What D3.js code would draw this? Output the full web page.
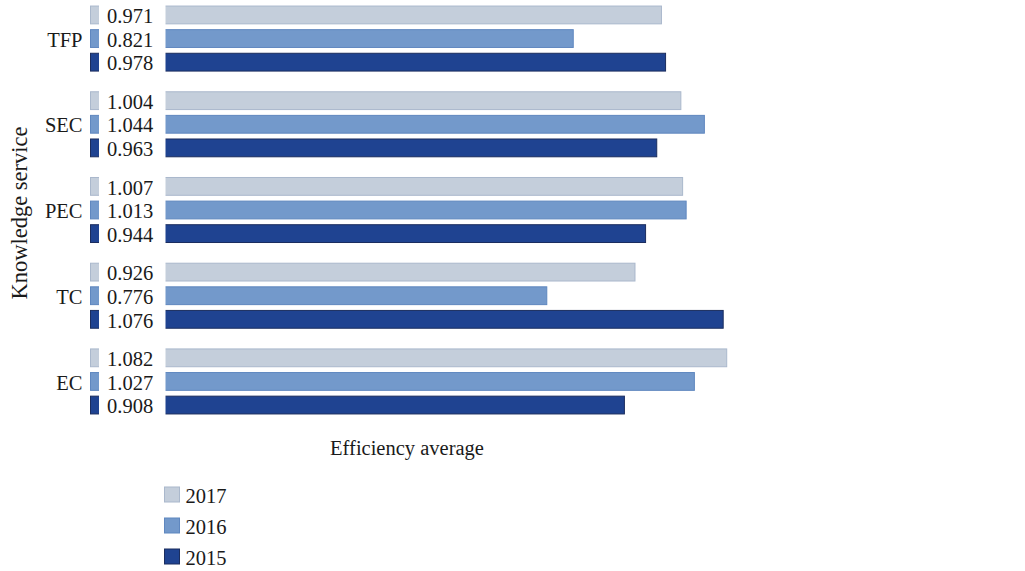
<!DOCTYPE html>
<html>
<head>
<meta charset="utf-8">
<script src="https://cdn.jsdelivr.net/npm/d3@7"></script>
<style>
  html, body { margin: 0; padding: 0; background: #fff; }
  svg text { font-family: "Liberation Serif", "DejaVu Serif", serif; fill: #1a1a1a; }
</style>
</head>
<body>
<svg id="chart" width="1025" height="571"></svg>
<script>
// Efficiency averages by knowledge-service component and year
const categories = ["TFP", "SEC", "PEC", "TC", "EC"];
const years = ["2017", "2016", "2015"];
const values2017 = [0.971, 1.004, 1.007, 0.926, 1.082];
const values2016 = [0.821, 1.044, 1.013, 0.776, 1.027];
const values2015 = [0.978, 0.963, 0.944, 1.076, 0.908];

const seriesByYear = { "2017": values2017, "2016": values2016, "2015": values2015 };
const fills   = { "2017": "#c4cedb", "2016": "#7399cb", "2015": "#1f4391" };
const strokes = { "2017": "#aab8cc", "2016": "#5f87bf", "2015": "#1b2d5e" };

const rows = [];
categories.forEach((c, i) => {
  years.forEach(yr => rows.push({ cat: c, year: yr, value: seriesByYear[yr][i] }));
});

const svg = d3.select("#chart");

const x = d3.scaleLinear().domain([0, 1.2]).range([90.5, 90.5 + 1.2 * 588]);
const y0 = d3.scaleBand().domain(categories).range([-4.3, 424.3])
  .paddingInner(0.2415).paddingOuter(0.1207);
const y1 = d3.scaleBand().domain(years).range([0, y0.bandwidth()]).paddingInner(0.246);

const bars = svg.append("g");
bars.selectAll("rect")
  .data(rows)
  .join("rect")
  .attr("x", x(0))
  .attr("y", d => y0(d.cat) + y1(d.year))
  .attr("width", d => x(d.value) - x(0))
  .attr("height", y1.bandwidth())
  .attr("fill", d => fills[d.year])
  .attr("stroke", d => strokes[d.year])
  .attr("stroke-width", 1);

// blank column between legend keys and bars, holding the values
svg.append("rect")
  .attr("x", 99).attr("y", 0)
  .attr("width", 165.5 - 99).attr("height", 430)
  .attr("fill", "#fff");

svg.append("g").selectAll("text")
  .data(rows)
  .join("text")
  .attr("x", 107)
  .attr("y", d => y0(d.cat) + y1(d.year) + y1.bandwidth() / 2)
  .attr("dy", "0.4em")
  .attr("font-size", 20.5)
  .text(d => d3.format(".3f")(d.value));

// category labels
svg.append("g").selectAll("text")
  .data(categories)
  .join("text")
  .attr("x", 82.5)
  .attr("y", d => y0(d) + y0.bandwidth() / 2)
  .attr("dy", "0.4em")
  .attr("text-anchor", "end")
  .attr("font-size", 20.5)
  .text(d => d);

// axis titles
svg.append("text")
  .attr("transform", "translate(27,213) rotate(-90)")
  .attr("text-anchor", "middle")
  .attr("font-size", 22.5)
  .text("Knowledge service");

svg.append("text")
  .attr("x", 407).attr("y", 455)
  .attr("text-anchor", "middle")
  .attr("font-size", 20.5)
  .text("Efficiency average");

// legend
const legend = svg.append("g").selectAll("g")
  .data(years)
  .join("g")
  .attr("transform", (d, i) => `translate(164.5,${487 + i * 31})`);
legend.append("rect")
  .attr("width", 15).attr("height", 15)
  .attr("fill", d => fills[d])
  .attr("stroke", d => strokes[d]);
legend.append("text")
  .attr("x", 21).attr("y", 7.5).attr("dy", "0.4em")
  .attr("font-size", 20.5)
  .text(d => d);
</script>
</body>
</html>
